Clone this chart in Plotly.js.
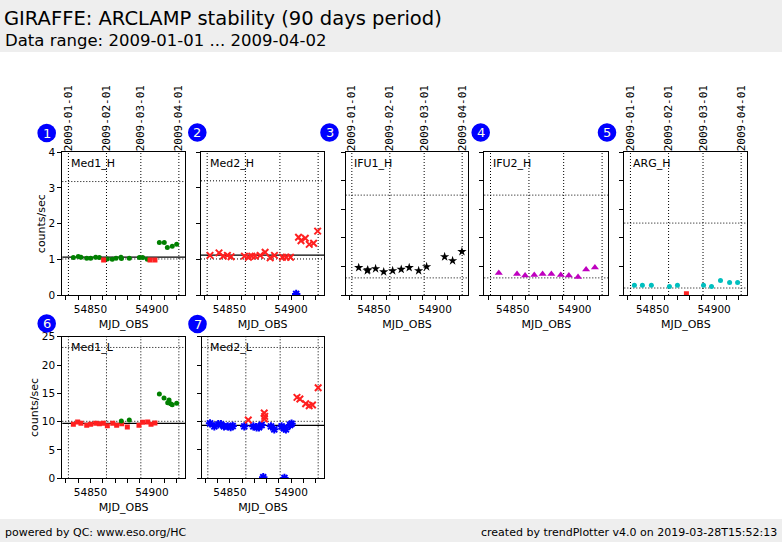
<!DOCTYPE html>
<html><head><meta charset="utf-8">
<script src="https://cdn.plot.ly/plotly-3.0.1.min.js"></script>
<style>html,body{margin:0;padding:0;background:#fff;} #chart{width:782px;height:542px;}</style>
</head><body><div id="chart"></div>
<script>
// ---------- data ----------
const monthMjd = [54832, 54863, 54891, 54922];
const monthLabels = ['2009-01-01', '2009-02-01', '2009-03-01', '2009-04-01'];
const mjdTickVals = [54830, 54840, 54850, 54860, 54870, 54880, 54890, 54900, 54910, 54920];
const mjdTickText = ['', '', '54850', '', '', '', '', '54900', '', ''];

// Med1_H
const med1hOkX = [54836.0, 54840.0, 54842.2, 54846.9, 54850.1, 54854.2, 54857.2, 54863.7, 54867.7, 54870.8, 54874.8, 54875.2, 54881.6, 54889.8, 54892.5, 54896.3, 54906.1, 54910.1, 54912.6, 54916.6, 54920.2];
const med1hOkY = [1.05, 1.08, 1.06, 1.03, 1.03, 1.06, 1.05, 1.01, 1.00, 1.03, 1.06, 1.02, 1.03, 1.05, 1.05, 1.00, 1.47, 1.47, 1.33, 1.37, 1.42];
const med1hBadX = [54860.7, 54898.5, 54902.5];
const med1hBadY = [0.98, 0.98, 0.98];
const med1hLimits = [3.18, 1.01];
const med1hMean = 1.06;

// Med2_H
const med2hOkX = [54834.3, 54841.6, 54845.1, 54848.4, 54851.4, 54862.2, 54865.5, 54868.2, 54870.9, 54875.0, 54879.0, 54883.1, 54886.6, 54893.1, 54896.1, 54899.6, 54906.1, 54908.1, 54911.6, 54914.8, 54918.3, 54921.6];
const med2hOkY = [1.11, 1.18, 1.09, 1.11, 1.07, 1.09, 1.06, 1.09, 1.09, 1.11, 1.20, 1.04, 1.11, 1.06, 1.06, 1.06, 1.62, 1.52, 1.59, 1.42, 1.45, 1.79];
const med2hBadX = [54904.2];
const med2hBadY = [0.03];
const med2hLimits = [3.2, 1.01];
const med2hMean = 1.115;

// IFU1_H
const ifu1hX = [54837.6, 54844.6, 54845.0, 54851.4, 54858.0, 54865.3, 54872.3, 54878.8, 54886.5, 54893.0, 54907.7, 54914.2, 54921.8];
const ifu1hY = [0.96, 0.85, 0.88, 0.92, 0.81, 0.85, 0.90, 0.96, 0.85, 0.99, 1.34, 1.20, 1.52];
const ifu1hLimits = [3.5, 0.6];

// IFU2_H
const ifu2hX = [54838.7, 54853.4, 54859.9, 54867.3, 54874.0, 54881.1, 54888.7, 54895.2, 54902.6, 54909.1, 54916.2];
const ifu2hY = [0.77, 0.74, 0.68, 0.70, 0.74, 0.74, 0.70, 0.68, 0.63, 0.89, 0.96];
const ifu2hLimits = [3.5, 0.6];

// ARG_H
const arghOkX = [54835.2, 54841.7, 54849.0, 54863.7, 54870.2, 54891.4, 54897.9, 54905.2, 54912.6, 54919.1];
const arghOkY = [0.34, 0.34, 0.34, 0.30, 0.34, 0.34, 0.30, 0.51, 0.44, 0.44];
const arghBadX = [54877.5];
const arghBadY = [0.04];
const arghLimits = [2.52, 0.245];

// Med1_L
const med1lRedX = [54836.0, 54839.5, 54842.2, 54846.9, 54850.1, 54854.2, 54857.2, 54860.4, 54863.7, 54868.1, 54871.3, 54875.4, 54880.0, 54889.5, 54892.5, 54896.6, 54899.3, 54902.5];
const med1lRedY = [9.53, 9.94, 9.70, 9.35, 9.53, 9.70, 9.64, 9.70, 9.29, 9.70, 9.35, 9.64, 9.05, 9.35, 9.88, 9.94, 9.53, 9.76];
const med1lGreenX = [54875.1, 54881.6, 54906.1, 54909.9, 54912.9, 54914.0, 54915.3, 54916.6, 54920.2];
const med1lGreenY = [10.11, 10.29, 14.88, 14.17, 13.34, 13.82, 13.16, 12.99, 13.23];
const med1lLimits = [23.1, 10.06];
const med1lMean = 9.7;

// Med2_L
const med2lBlueX = [54833.8, 54837.3, 54840.5, 54842.7, 54845.2, 54848.2, 54850.6, 54852.3, 54861.7, 54869.1, 54871.8, 54873.7, 54875.9, 54883.5, 54886.2, 54892.2, 54894.1, 54895.7, 54899.0, 54900.3, 54877.2, 54894.5];
const med2lBlueY = [9.70, 9.17, 9.53, 9.53, 9.17, 9.17, 9.05, 9.23, 9.17, 9.17, 9.00, 9.00, 9.41, 9.17, 8.64, 9.17, 8.82, 8.64, 9.41, 9.64, 0.20, 0.05];
const med2lRedX = [54865.0, 54878.0, 54878.4, 54878.2, 54904.7, 54907.1, 54911.8, 54914.7, 54917.4, 54922.0];
const med2lRedY = [10.29, 11.52, 10.94, 10.47, 14.29, 14.00, 13.17, 12.82, 12.94, 15.99];
const med2lLimits = [23.1, 10.06];
const med2lMean = 9.35;

// ---------- styling / layout ----------
const W = 782, H = 542;
const FONT = 'DejaVu Sans, sans-serif';
const MONO = 'DejaVu Sans Mono, monospace';
const GREEN = '#008000', RED = '#ff2020', BLUE = '#0000ff', MAG = '#bf00bf', CYAN = '#00bfbf';

const mk = {
  dot: (c) => ({symbol: 'circle', size: 5, color: c}),
  sq: (c) => ({symbol: 'square', size: 5, color: c}),
  x: (c) => ({symbol: 'x-thin-open', size: 6.5, color: c, line: {color: c, width: 2}}),
  ast: (c) => ({symbol: 'asterisk-open', size: 7, color: c, line: {color: c, width: 2}}),
  star: (c) => ({symbol: 'star', size: 7, color: c}),
  tri: (c) => ({symbol: 'triangle-up', size: 7, color: c})
};

const panels = [
  {name: 'Med1_H', box: [62.3, 185, 152.3, 295], yr: [0, 4], dy: 1, ylab: true, dates: true, limits: med1hLimits, mean: med1hMean,
   series: [[med1hOkX, med1hOkY, mk.dot(GREEN)], [med1hBadX, med1hBadY, mk.sq(RED)]], circ: [46.7, 133]},
  {name: 'Med2_H', box: [201, 324.3, 152.3, 295], yr: [0, 4], dy: 1, ylab: false, dates: false, limits: med2hLimits, mean: med2hMean,
   series: [[med2hOkX, med2hOkY, mk.x(RED)], [med2hBadX, med2hBadY, mk.ast(BLUE)]], circ: [197.3, 132.5]},
  {name: 'IFU1_H', box: [345.7, 468.3, 152.3, 295], yr: [0, 5], dy: 1, ylab: false, dates: true, limits: ifu1hLimits, mean: null,
   series: [[ifu1hX, ifu1hY, mk.star('#000')]], circ: [329.5, 132.5]},
  {name: 'IFU2_H', box: [484.3, 608.3, 152.3, 295], yr: [0, 5], dy: 1, ylab: false, dates: false, limits: ifu2hLimits, mean: null,
   series: [[ifu2hX, ifu2hY, mk.tri(MAG)]], circ: [480.7, 132.5]},
  {name: 'ARG_H', box: [624.3, 747.3, 152.3, 295], yr: [0, 5], dy: 1, ylab: false, dates: true, limits: arghLimits, mean: null,
   series: [[arghOkX, arghOkY, mk.dot(CYAN)], [arghBadX, arghBadY, mk.sq(RED)]], circ: [607, 132.5]},
  {name: 'Med1_L', box: [62.3, 185, 336.7, 478.3], yr: [0, 25], dy: 5, ylab: true, dates: false, limits: med1lLimits, mean: med1lMean,
   series: [[med1lRedX, med1lRedY, mk.sq(RED)], [med1lGreenX, med1lGreenY, mk.dot(GREEN)]], circ: [46.7, 323.5]},
  {name: 'Med2_L', box: [201.7, 324.3, 336.7, 478.3], yr: [0, 25], dy: 5, ylab: false, dates: false, limits: med2lLimits, mean: med2lMean,
   series: [[med2lBlueX, med2lBlueY, mk.ast(BLUE)], [med2lRedX, med2lRedY, mk.x(RED)]], circ: [197.5, 324]}
];

const XR = [54827, 54927];
const data = [];
const shapes = [];
const annotations = [];
const layout = {
  width: W, height: H,
  margin: {l: 0, r: 0, t: 0, b: 0},
  paper_bgcolor: '#ffffff', plot_bgcolor: '#ffffff',
  showlegend: false,
  font: {family: FONT, color: '#000', size: 11},
  title: {text: 'GIRAFFE: ARCLAMP stability (90 days period)', x: 4 / W, xanchor: 'left', xref: 'paper',
          y: 1 - 18 / H, yanchor: 'middle', yref: 'paper', font: {family: FONT, size: 19.5, color: '#000'}},
  shapes: shapes, annotations: annotations
};

// header / footer bands
shapes.push({type: 'rect', xref: 'paper', yref: 'paper', x0: 0, x1: 1, y0: 1 - 52 / H, y1: 1, fillcolor: '#eeeeee', line: {width: 0}, layer: 'below'});
shapes.push({type: 'rect', xref: 'paper', yref: 'paper', x0: 0, x1: 1, y0: 0, y1: 1 - 519 / H, fillcolor: '#eeeeee', line: {width: 0}, layer: 'below'});
annotations.push({text: 'Data range: 2009-01-01 ... 2009-04-02', xref: 'paper', yref: 'paper', x: 3 / W, y: 1 - 41 / H,
  xanchor: 'left', yanchor: 'middle', showarrow: false, font: {size: 16.5}});
annotations.push({text: 'powered by QC: www.eso.org/HC', xref: 'paper', yref: 'paper', x: 3 / W, y: 1 - 532 / H,
  xanchor: 'left', yanchor: 'middle', showarrow: false, font: {size: 11}});
annotations.push({text: 'created by trendPlotter v4.0 on 2019-03-28T15:52:13', xref: 'paper', yref: 'paper', x: 779 / W, y: 1 - 532 / H,
  xanchor: 'right', yanchor: 'middle', showarrow: false, font: {size: 11}});

let extraAxis = 8;
panels.forEach((p, i) => {
  const n = i + 1;
  const sfx = n === 1 ? '' : String(n);
  const [l, r, t, b] = p.box;
  layout['xaxis' + sfx] = {
    domain: [l / W, r / W], anchor: 'y' + sfx, range: XR, tickmode: 'array',
    tickvals: mjdTickVals, ticktext: mjdTickText,
    ticks: 'outside', ticklen: 4, tickwidth: 1, tickcolor: '#000',
    showline: true, mirror: true, linecolor: '#000', linewidth: 1,
    showgrid: false, zeroline: false, automargin: false,
    tickfont: {size: 10.5, color: '#000'},
    title: {text: 'MJD_OBS', font: {size: 11, color: '#000'}, standoff: 6}
  };
  const ya = {
    domain: [1 - b / H, 1 - t / H], anchor: 'x' + sfx, range: p.yr, tick0: 0, dtick: p.dy,
    ticks: 'outside', ticklen: 4, tickwidth: 1, tickcolor: '#000',
    showline: true, mirror: true, linecolor: '#000', linewidth: 1,
    showgrid: false, zeroline: false, automargin: false,
    showticklabels: p.ylab, tickfont: {size: 10.5, color: '#000'}
  };
  if (p.ylab) ya.title = {text: 'counts/sec', font: {size: 11, color: '#000'}, standoff: 0};
  layout['yaxis' + sfx] = ya;

  p.series.forEach(s => {
    data.push({type: 'scatter', mode: 'markers', x: s[0], y: s[1], marker: s[2], xaxis: 'x' + sfx, yaxis: 'y' + sfx,
      hoverinfo: 'x+y', cliponaxis: true});
  });

  // month grid lines
  monthMjd.forEach(m => shapes.push({type: 'line', xref: 'x' + sfx, yref: 'y' + sfx + ' domain', x0: m, x1: m, y0: 0, y1: 1,
    line: {color: '#000', width: 1, dash: '1px,2px'}, layer: 'below'}));
  // limit lines
  p.limits.forEach(v => shapes.push({type: 'line', xref: 'x' + sfx + ' domain', yref: 'y' + sfx, x0: 0, x1: 1, y0: v, y1: v,
    line: {color: '#000', width: 1, dash: '1px,2px'}, layer: 'below'}));
  if (p.mean !== null) shapes.push({type: 'line', xref: 'x' + sfx + ' domain', yref: 'y' + sfx, x0: 0, x1: 1, y0: p.mean, y1: p.mean,
    line: {color: '#000', width: 1.2}, layer: 'below'});

  // panel label
  annotations.push({text: p.name, xref: 'x' + sfx + ' domain', yref: 'y' + sfx + ' domain', x: 0.055, y: 1 - 11 / (b - t),
    xanchor: 'left', yanchor: 'middle', showarrow: false, font: {size: 11}});

  // numbered circle
  const [cx, cy] = p.circ, rad = 9.3;
  shapes.push({type: 'circle', xref: 'paper', yref: 'paper', x0: (cx - rad) / W, x1: (cx + rad) / W,
    y0: 1 - (cy + rad) / H, y1: 1 - (cy - rad) / H, fillcolor: '#0000ff', line: {width: 0}});
  annotations.push({text: String(n), xref: 'paper', yref: 'paper', x: cx / W, y: 1 - cy / H, xanchor: 'center', yanchor: 'middle',
    showarrow: false, font: {size: 13, color: '#ffffee'}});

  // date axis on top
  if (p.dates) {
    const k = extraAxis++;
    layout['xaxis' + k] = {
      overlaying: 'x' + sfx, anchor: 'y' + sfx, side: 'top', range: XR, tickmode: 'array',
      tickvals: monthMjd, ticktext: monthLabels, tickangle: -90, ticks: '', showline: false,
      showgrid: false, zeroline: false, automargin: false, tickfont: {family: MONO, size: 11, color: '#000'}
    };
    data.push({type: 'scatter', mode: 'markers', x: monthMjd, y: monthMjd.map(() => null), xaxis: 'x' + k, yaxis: 'y' + sfx,
      hoverinfo: 'skip', showlegend: false});
  }
});

Plotly.newPlot('chart', data, layout, {displayModeBar: false, staticPlot: true});
</script>
</body></html>
